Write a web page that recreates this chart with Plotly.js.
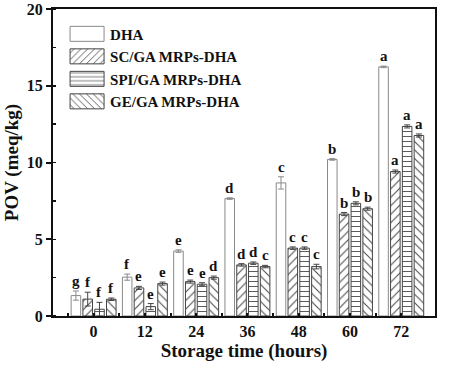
<!DOCTYPE html>
<html><head><meta charset="utf-8">
<script src="https://cdn.plot.ly/plotly-3.0.1.min.js"></script>
<style>html,body{margin:0;padding:0;background:#fff}#chart{width:450px;height:377px}</style>
</head><body><div id="chart"></div>
<script>
const categories = [0, 12, 24, 36, 48, 60, 72];
const seriesNames = ['DHA', 'SC/GA MRPs-DHA', 'SPI/GA MRPs-DHA', 'GE/GA MRPs-DHA'];
const dha    = [1.33, 2.53, 4.23, 7.65, 8.67, 10.2, 16.23];
const dhaErr = [0.30, 0.20, 0.08, 0.05, 0.40, 0.05, 0.05];
const sc     = [1.10, 1.83, 2.24, 3.33, 4.42, 6.64, 9.41];
const scErr  = [0.45, 0.10, 0.10, 0.08, 0.08, 0.10, 0.10];
const spi    = [0.44, 0.61, 2.07, 3.44, 4.42, 7.34, 12.35];
const spiErr = [0.45, 0.20, 0.10, 0.08, 0.08, 0.10, 0.10];
const ge     = [1.09, 2.11, 2.50, 3.22, 3.22, 6.99, 11.76];
const geErr  = [0.08, 0.10, 0.10, 0.08, 0.15, 0.10, 0.10];
const dhaLetters = ['g', 'f', 'e', 'd', 'c', 'b', 'a'];
const scLetters  = ['f', 'e', 'e', 'd', 'c', 'b', 'a'];
const spiLetters = ['f', 'e', 'e', 'd', 'c', 'b', 'a'];
const geLetters  = ['f', 'e', 'd', 'c', 'c', 'b', 'a'];
const tickLabels = ['0', '12', '24', '36', '48', '60', '72'];

const values = [dha, sc, spi, ge];
const errs = [dhaErr, scErr, spiErr, geErr];
const letters = [dhaLetters, scLetters, spiLetters, geLetters];
const shapesP = ['', '/', '-', '\\'];
const lineCols = ['#8a8a8a', '#444', '#444', '#444'];

const FONT = 'Liberation Serif, Times New Roman, serif';
const bargap = 0.08, bargroupgap = 0.19;
const slot = 12 * (1 - bargap) / 4;

const traces = values.map((v, i) => ({
  type: 'bar', name: '<b>' + seriesNames[i] + '</b>', x: categories, y: v,
  marker: {
    color: '#fff',
    line: {color: lineCols[i], width: 1},
    pattern: shapesP[i] ? {shape: shapesP[i], fgcolor: '#4a4a4a', bgcolor: '#fff', size: i === 2 ? 5 : 6, solidity: 0.18} : undefined
  },
  error_y: {type: 'data', array: errs[i], visible: true, color: lineCols[i], thickness: 1, width: 3}
}));

const annotations = [];
values.forEach((v, i) => {
  v.forEach((val, j) => {
    annotations.push({
      x: categories[j] + (i - 1.5) * slot, y: val + errs[i][j], xref: 'x', yref: 'y',
      text: '<b>' + letters[i][j] + '</b>', showarrow: false, yanchor: 'bottom', yshift: 0,
      font: {family: FONT, size: 15, color: '#111'}
    });
  });
});

const layout = {
  width: 450, height: 377,
  margin: {l: 53, r: 15, t: 9, b: 61},
  paper_bgcolor: '#fff', plot_bgcolor: '#fff',
  barmode: 'group', bargap: bargap, bargroupgap: bargroupgap,
  font: {family: FONT, color: '#111'},
  showlegend: true,
  legend: {x: 0.029, y: 0.972, xanchor: 'left', yanchor: 'top', bgcolor: 'rgba(0,0,0,0)',
           font: {family: FONT, size: 15, color: '#111'}, itemwidth: 36, tracegroupgap: 0},
  xaxis: {
    range: [-9.5, 79.9], tickvals: categories, ticktext: tickLabels.map(t => '<b>' + t + '</b>'),
    ticks: 'inside', ticklen: 3, tickwidth: 2, tickcolor: '#111',
    minor: {tickvals: categories.concat([78]).map(c => c - 6), ticks: 'inside', ticklen: 3, tickwidth: 2, tickcolor: '#111'},
    showline: true, linecolor: '#111', linewidth: 2, mirror: true, showgrid: false, zeroline: false,
    tickfont: {family: FONT, size: 16, color: '#111'},
    title: {text: '<b>Storage time (hours)</b>', font: {family: FONT, size: 19, color: '#111'}, standoff: 4}
  },
  yaxis: {
    range: [0, 20], tickvals: [0, 5, 10, 15, 20], ticktext: ['<b>0</b>', '<b>5</b>', '<b>10</b>', '<b>15</b>', '<b>20</b>'],
    ticks: 'outside', ticklen: 5, tickwidth: 2, tickcolor: '#111',
    minor: {dtick: 2.5, tick0: 0, ticks: 'inside', ticklen: 3, tickwidth: 1.5, tickcolor: '#111'},
    showline: true, linecolor: '#111', linewidth: 2, mirror: true, showgrid: false, zeroline: false,
    tickfont: {family: FONT, size: 16, color: '#111'},
    title: {text: '<b>POV (meq/kg)</b>', font: {family: FONT, size: 19, color: '#111'}, standoff: 3}
  },
  annotations: annotations
};

Plotly.newPlot('chart', traces, layout, {displayModeBar: false, staticPlot: true}).then(gd => {
  gd.querySelectorAll('.legend .legendpoints path').forEach(p => {
    p.setAttribute('d', 'M-17,-7.5H17V7.5H-17Z');
  });
});
</script>
</body></html>
